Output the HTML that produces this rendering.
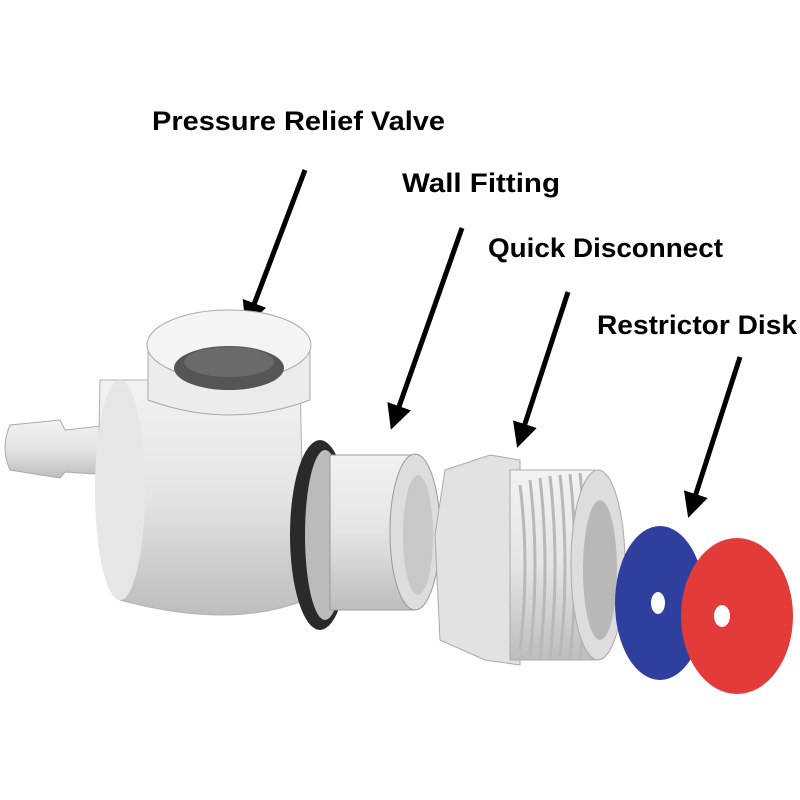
<!DOCTYPE html>
<html><head><meta charset="utf-8"><style>
html,body{margin:0;padding:0;background:#fff;width:800px;height:800px;overflow:hidden}
svg text{font-family:"Liberation Sans",sans-serif;font-weight:bold;fill:#000}
</style></head><body>
<svg width="800" height="800" viewBox="0 0 800 800" xmlns="http://www.w3.org/2000/svg">
<defs>
<linearGradient id="g1" x1="0" y1="0" x2="0" y2="1"><stop offset="0" stop-color="#f2f2f2"/><stop offset="0.5" stop-color="#e4e4e4"/><stop offset="1" stop-color="#bdbdbd"/></linearGradient>
<marker id="ah" markerWidth="5" markerHeight="5" refX="2.5" refY="2.5" orient="auto"><path d="M0,0 L5,2.5 L0,5 z" fill="#000"/></marker>
</defs>
<text x="152" y="130" font-size="27" textLength="293" lengthAdjust="spacingAndGlyphs">Pressure Relief Valve</text>
<text x="402" y="192" font-size="27" textLength="158" lengthAdjust="spacingAndGlyphs">Wall Fitting</text>
<text x="488" y="257" font-size="27" textLength="235" lengthAdjust="spacingAndGlyphs">Quick Disconnect</text>
<text x="597" y="334" font-size="27" textLength="200" lengthAdjust="spacingAndGlyphs">Restrictor Disk</text>
<g stroke="#000" stroke-width="5" fill="none" marker-end="url(#ah)">
<line x1="305" y1="170" x2="250" y2="315"/>
<line x1="462" y1="228" x2="395" y2="418"/>
<line x1="568" y1="292" x2="521" y2="436"/>
<line x1="740" y1="357" x2="692" y2="506"/>
</g>
<path d="M10,425 L60,420 L65,430 L110,425 L110,475 L65,472 L60,478 L10,470 Q0,448 10,425z" fill="url(#g1)" stroke="#aaa"/>
<path d="M100,380 L300,380 L305,600 Q230,630 120,600 Q95,560 100,380z" fill="url(#g1)" stroke="#b0b0b0"/>
<ellipse cx="120" cy="490" rx="25" ry="110" fill="#e6e6e6"/>
<path d="M148,345 L310,345 L310,400 Q230,430 148,400z" fill="#ececec" stroke="#aaa"/>
<ellipse cx="229" cy="345" rx="82" ry="35" fill="#f4f4f4" stroke="#aaa"/>
<ellipse cx="229" cy="368" rx="55" ry="22" fill="#555"/>
<ellipse cx="229" cy="362" rx="45" ry="15" fill="#6a6a6a"/>
<ellipse cx="320" cy="535" rx="30" ry="95" fill="#2a2a2a"/>
<ellipse cx="325" cy="535" rx="20" ry="85" fill="#bbb"/>
<path d="M330,455 L415,455 Q445,530 415,610 L330,610z" fill="url(#g1)" stroke="#999"/>
<ellipse cx="415" cy="532" rx="25" ry="78" fill="#ddd" stroke="#999"/>
<ellipse cx="418" cy="535" rx="15" ry="60" fill="#c8c8c8"/>
<path d="M445,470 L490,455 L520,460 L520,665 L485,660 L440,640 L435,535z" fill="#e2e2e2" stroke="#aaa"/>
<path d="M510,470 L595,470 Q630,565 595,660 L510,660z" fill="url(#g1)" stroke="#aaa"/>
<g stroke="#b8b8b8" stroke-width="3" fill="none">
<path d="M520,485 Q530,565 520,650"/><path d="M530,480 Q540,565 530,655"/><path d="M540,478 Q550,565 540,657"/><path d="M550,476 Q560,565 550,658"/><path d="M560,475 Q570,565 560,658"/><path d="M570,474 Q580,565 570,658"/><path d="M580,473 Q590,565 580,658"/>
</g>
<ellipse cx="598" cy="565" rx="27" ry="95" fill="#ddd" stroke="#aaa"/>
<ellipse cx="600" cy="570" rx="17" ry="70" fill="#b8b8b8"/>
<ellipse cx="660" cy="603" rx="45" ry="77" fill="#2e3f9e"/>
<ellipse cx="658" cy="603" rx="7" ry="11" fill="#fff"/>
<ellipse cx="737" cy="616" rx="56" ry="78" fill="#e33a3a"/>
<ellipse cx="722" cy="616" rx="8" ry="11" fill="#fff"/>
</svg>
</body></html>
